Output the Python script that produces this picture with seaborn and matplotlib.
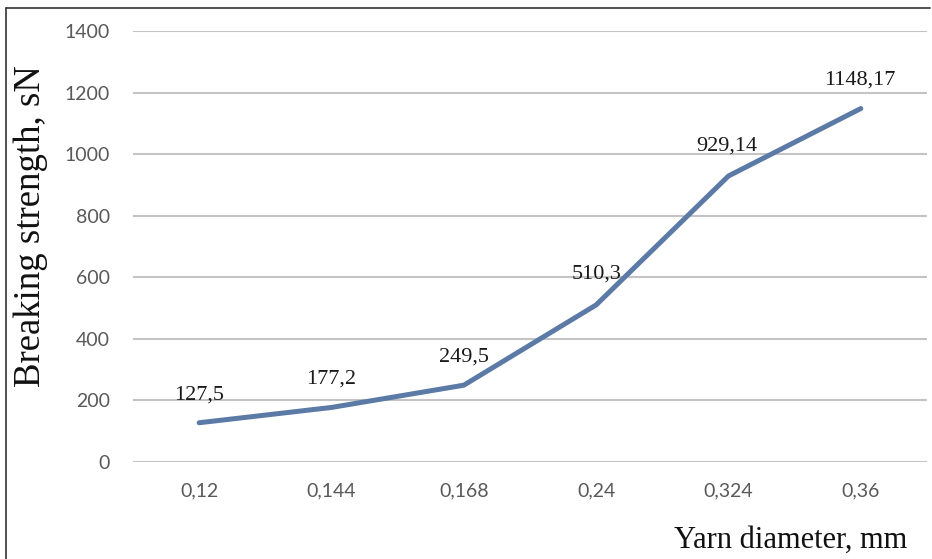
import matplotlib
matplotlib.use("Agg")
import matplotlib.pyplot as plt
import seaborn as sns
import pandas as pd
from matplotlib.lines import Line2D

# data
diameters = ["0,12", "0,144", "0,168", "0,24", "0,324", "0,36"]
strength = [127.5, 177.2, 249.5, 510.3, 929.14, 1148.17]
point_labels = ["127,5", "177,2", "249,5", "510,3", "929,14", "1148,17"]
yticks = [0, 200, 400, 600, 800, 1000, 1200, 1400]

sns.set_style("white")
plt.rcParams["font.family"] = ["Lato", "DejaVu Sans"]
serif = ["Liberation Serif", "DejaVu Serif"]

df = pd.DataFrame({"diameter": diameters, "strength": strength})

fig = plt.figure(figsize=(9.32, 5.59), dpi=100)
ax = fig.add_axes([133 / 932, 1 - 462 / 559, (927 - 133) / 932, (462 - 31) / 559])

for y in yticks:
    ax.axhline(y, color="#c4c4c4", lw=1.5, zorder=0)

sns.lineplot(data=df, x="diameter", y="strength", sort=False, ax=ax,
             color="#5b7aa6", lw=3.6, zorder=3)

offsets = [(0, 28), (0, 28), (0, 28), (0, 31), (-2, 30), (-1, 28)]
for i, (val, lab) in enumerate(zip(strength, point_labels)):
    ax.annotate(lab, (i, val), xytext=offsets[i], textcoords="offset pixels",
                ha="center", va="center", fontsize=16, color="#1a1a1a",
                family=serif)

ax.set_xlim(-0.5, 5.5)
ax.set_ylim(0, 1400)
ax.set_yticks(yticks)
ax.set_yticklabels([str(v) for v in yticks])
ax.tick_params(axis="both", length=0, labelsize=14, labelcolor="#595959")
ax.tick_params(axis="y", pad=16.5)
ax.tick_params(axis="x", pad=15)
ax.set_xlabel("")
ax.set_ylabel("")
for s in ax.spines.values():
    s.set_visible(False)

fig.text(31 / 932, 1 - 226 / 559, "Breaking strength, sN", rotation=90,
         ha="center", va="center", fontsize=26.5, color="#111111", family=serif)
fig.text(791 / 932, 1 - 548 / 559, "Yarn diameter, mm", ha="center",
         va="baseline", fontsize=22, color="#111111", family=serif)

# frame lines at the left and top edge of the chart
fig.add_artist(Line2D([6 / 932, 6 / 932], [0, 1 - 8 / 559],
                      transform=fig.transFigure, color="#333333", lw=1.2))
fig.add_artist(Line2D([6 / 932, 930 / 932], [1 - 8 / 559, 1 - 8 / 559],
                      transform=fig.transFigure, color="#333333", lw=1.2))

fig.savefig("out.png", dpi=100)
